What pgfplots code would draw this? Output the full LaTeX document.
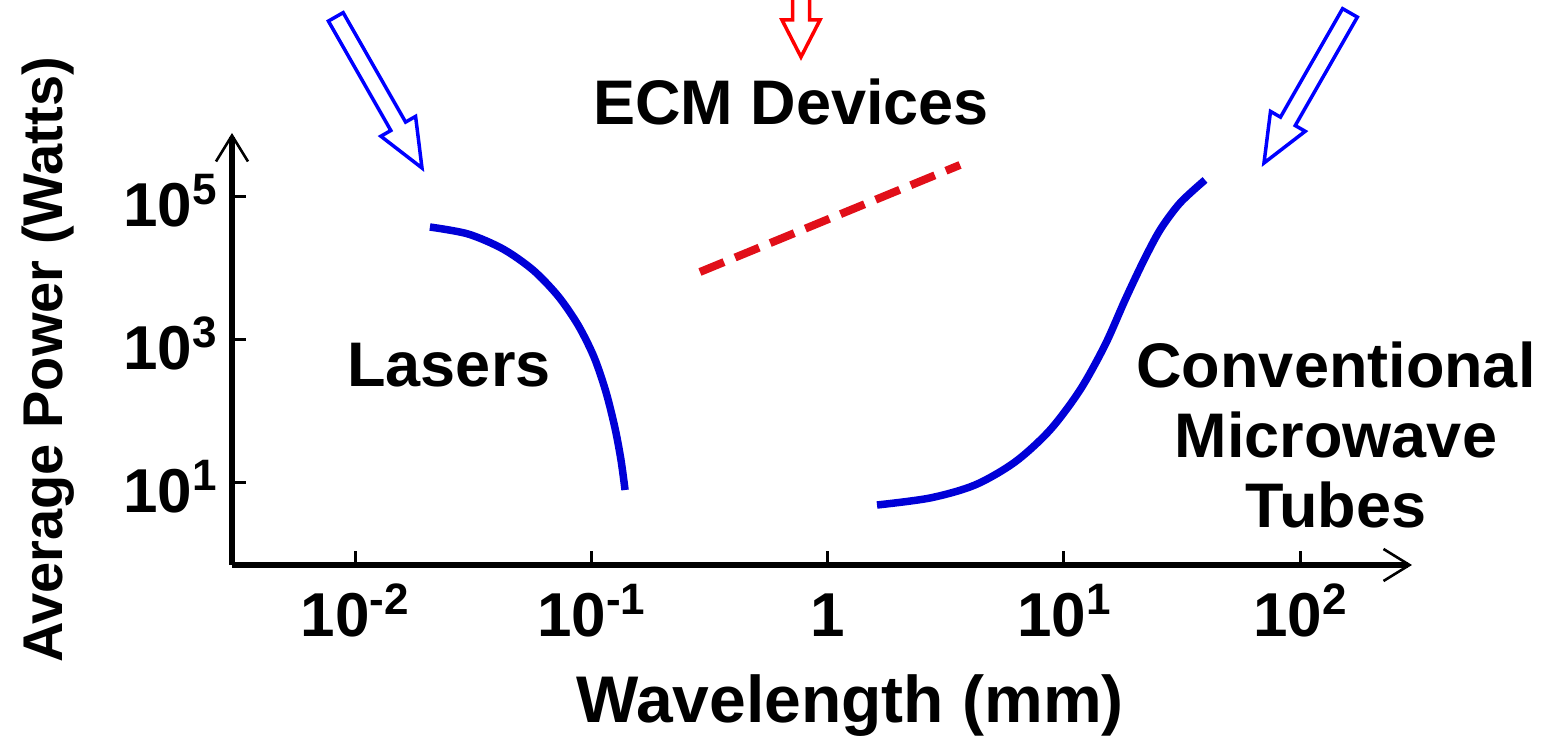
\documentclass[border=0pt]{standalone}
\usepackage{pgfplots}
\pgfplotsset{compat=1.18}
\usepackage{fontspec}
\setmainfont{Liberation Sans}
\usetikzlibrary{arrows.meta}
\definecolor{cblue}{RGB}{0,0,215}
\definecolor{cred}{RGB}{225,15,25}
\definecolor{aroblue}{RGB}{0,0,255}
\definecolor{arored}{RGB}{255,0,0}
\newcommand{\tk}[1]{\fontsize{31}{31}\selectfont\bfseries 10\raisebox{11pt}{\fontsize{22}{22}\selectfont #1}}
\begin{document}
\begin{tikzpicture}
\useasboundingbox (-116pt,-87pt) rectangle (656pt,282.5pt);
\begin{axis}[
  at={(0pt,0pt)}, anchor=south west,
  scale only axis, width=590pt, height=216pt,
  xmode=log, ymode=log,
  xmin=0.003015, xmax=297.8, ymin=0.713, ymax=785000,
  axis lines=left,
  axis line style={line width=3pt, -{Straight Barb[length=13pt,width=16pt,line width=1.3pt]}},
  xtick={0.01,0.1,1,10,100},
  xticklabels={\tk{-2},\tk{-1},{\fontsize{31}{31}\selectfont\bfseries 1},\tk{1},\tk{2}},
  ytick={10,1000,100000},
  yticklabels={\tk{1},\tk{3},\tk{5}},
  xminorticks=false, yminorticks=false,
  tick align=inside, major tick length=7pt,
  tick style={line width=1.5pt, black},
  xticklabel style={anchor=base, inner sep=0pt, yshift=-36pt},
  yticklabel style={anchor=base east, inner sep=0pt, xshift=-7.5pt, yshift=-15pt},
  clip=false,
]
% Lasers
\addplot[cblue, line width=3.75pt, smooth, tension=0.5] coordinates {
(0.02075,38019) (0.03008,30380) (0.04230,18740) (0.05667,9528) (0.07232,4125)
(0.08790,1621) (0.1027,578.5) (0.1154,187.4) (0.1260,58.77) (0.1336,20.97) (0.1390,7.98)};
% ECM devices
\addplot[cred, line width=4pt, dash pattern=on 13pt off 6pt] coordinates {
(0.2884,8933) (3.639,280500)};
% Conventional microwave tubes
\addplot[cblue, line width=3.75pt, smooth, tension=0.5] coordinates {
(1.620,4.92) (2.716,6.17) (4.211,9.38) (6.219,19.68) (8.746,55.1) (11.72,200)
(14.95,851) (18.17,3622) (21.65,12330) (25.55,34510) (31.05,82410) (39.62,173000)};
\end{axis}
% axis titles
\node[anchor=base, font=\fontsize{33}{33}\selectfont\bfseries] at (309pt,-79pt) {Wavelength (mm)};
\node[anchor=base, rotate=90, font=\fontsize{28}{28}\selectfont\bfseries] at (-84.5pt,102.5pt) {Average Power (Watts)};
% annotations
\tikzset{lbl/.style={anchor=base, font=\fontsize{31.5}{31.5}\selectfont\bfseries}}
\node[lbl] at (279.5pt,220pt) {ECM Devices};
\node[lbl] at (108.5pt,89pt) {Lasers};
\node[lbl] at (552pt,88.5pt) {Conventional};
\node[lbl] at (552pt,53.5pt) {Microwave};
\node[lbl] at (552pt,18.5pt) {Tubes};
% hollow arrows
\begin{scope}[shift={(95pt,198.5pt)}, rotate=-60.3]
\draw[aroblue, line width=1.75pt, fill=white, line join=miter] (0,0) -- (-24pt,10pt) -- (-24pt,4.25pt) -- (-87pt,4.25pt) -- (-87pt,-4.25pt) -- (-24pt,-4.25pt) -- (-24pt,-10pt) -- cycle;
\end{scope}
\begin{scope}[shift={(516pt,201pt)}, rotate=-119.8]
\draw[aroblue, line width=1.75pt, fill=white, line join=miter] (0,0) -- (-24pt,10pt) -- (-24pt,4.25pt) -- (-86.5pt,4.25pt) -- (-86.5pt,-4.25pt) -- (-24pt,-4.25pt) -- (-24pt,-10pt) -- cycle;
\end{scope}
\begin{scope}[shift={(284.5pt,254pt)}, rotate=-90]
\draw[arored, line width=1.75pt, fill=white, line join=miter] (0,0) -- (-18.5pt,9.5pt) -- (-18.5pt,4.25pt) -- (-34pt,4.25pt) -- (-34pt,-4.25pt) -- (-18.5pt,-4.25pt) -- (-18.5pt,-9.5pt) -- cycle;
\end{scope}
\end{tikzpicture}
\end{document}
